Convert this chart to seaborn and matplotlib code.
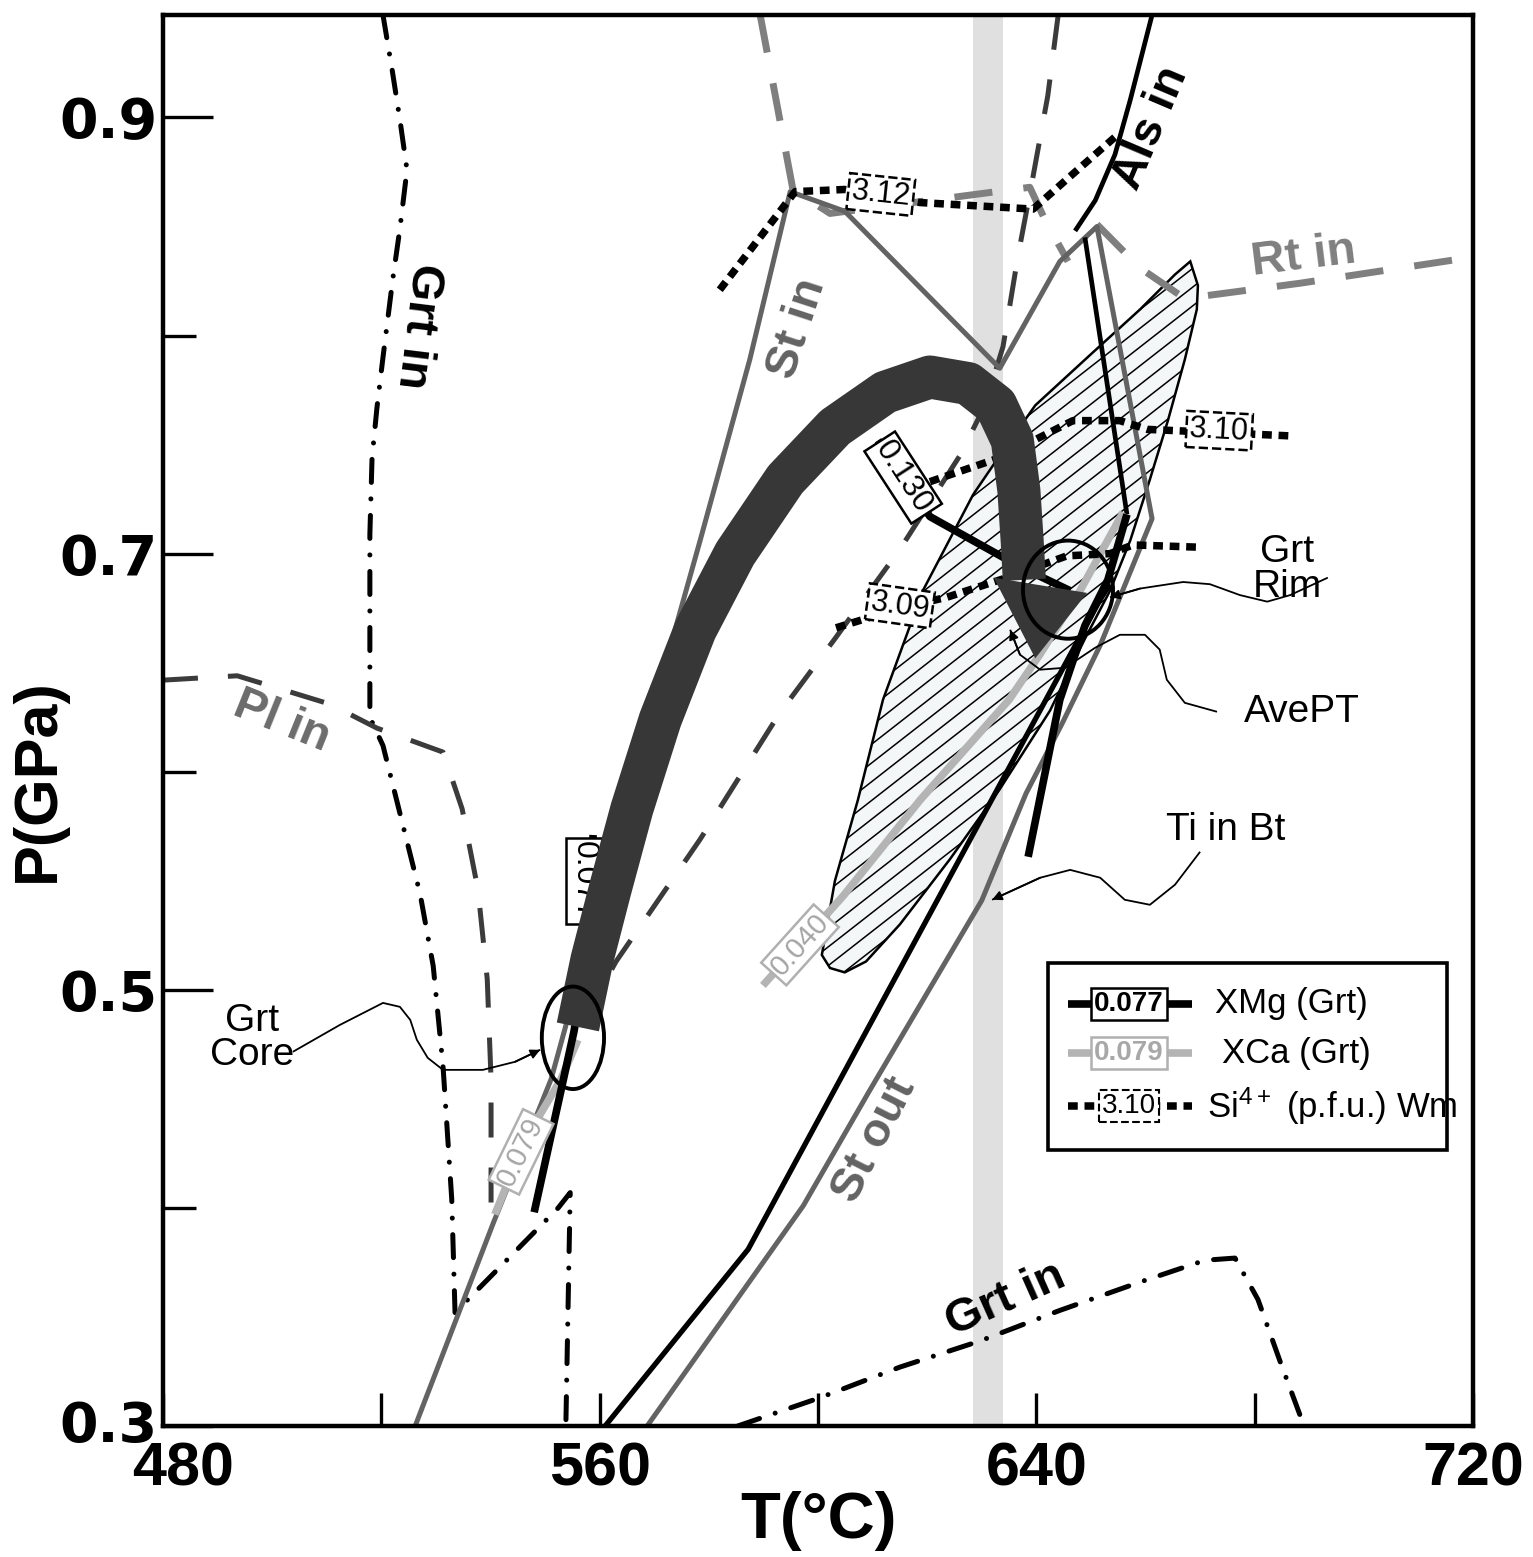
import numpy as np
import matplotlib
matplotlib.use("Agg")
import matplotlib.pyplot as plt
import matplotlib.transforms as mtransforms
import seaborn as sns
from matplotlib.patches import Polygon, Ellipse, Rectangle
from matplotlib.collections import LineCollection

# ---------------- data (T in degC, P in GPa) ----------------
# left "Grt in" boundary (dash-dot)
LGRT_T = [520.3, 522.0, 523.4, 524.7, 523.4, 522.1, 520.3, 519.2, 518.3, 517.9, 517.9, 520.3, 524.0,
          527.1, 529.5, 531.3, 532.9, 533.5, 552.4, 554.6, 553.8]
LGRT_P = [0.947, 0.9215, 0.899, 0.876, 0.849, 0.826, 0.790, 0.767, 0.744, 0.709, 0.625, 0.612, 0.575,
          0.544, 0.511, 0.465, 0.404, 0.352, 0.400, 0.407, 0.300]
# "Pl in" (dark dashed)
PL_T = [480.0, 493.6, 510.6, 519.2, 531.3, 534.8, 537.7, 539.4, 540.1, 540.1]
PL_P = [0.642, 0.644, 0.631, 0.620, 0.609, 0.583, 0.546, 0.505, 0.459, 0.391]
# lower "Grt in" (dash-dot)
LOWGRT_T = [585.3, 600.4, 615.0, 629.7, 644.3, 659.0, 670.9, 676.4, 680.6, 684.6, 688.3]
LOWGRT_P = [0.300, 0.313, 0.327, 0.339, 0.353, 0.366, 0.376, 0.377, 0.358, 0.330, 0.305]
# St in / St out field boundary (grey solid)
ST_T = [526.2, 540.5, 551.1, 560.1, 569.2, 578.4, 587.5, 594.9, 604.9, 633.3, 644.3, 651.1, 661.2,
        651.7, 644.7, 638.1, 630.0, 609.5, 597.3, 568.7]
ST_P = [0.300, 0.393, 0.459, 0.541, 0.624, 0.706, 0.789, 0.866, 0.857, 0.785, 0.834, 0.850, 0.716,
        0.658, 0.622, 0.590, 0.541, 0.454, 0.401, 0.300]
# dark dashed boundary
DK_T = [644.0, 642.1, 639.4, 636.6, 633.9, 630.6, 626.0, 615.0, 603.1, 593.0, 578.4, 563.0, 559.7]
DK_P = [0.947, 0.910, 0.873, 0.836, 0.795, 0.768, 0.745, 0.702, 0.661, 0.627, 0.569, 0.513, 0.498]
# light grey dashed boundary (top)
LG_T = [589.4, 595.4, 602.2, 638.8, 641.6, 645.8]
LG_P = [0.947, 0.867, 0.856, 0.868, 0.853, 0.834]
# "Rt in"
RT_T = [651.1, 659.0, 667.2, 688.3, 720.0]
RT_P = [0.851, 0.831, 0.817, 0.824, 0.836]
# "Als in"
ALS_T = [661.2, 657.2, 654.4, 650.8, 647.1]
ALS_P = [0.947, 0.908, 0.883, 0.862, 0.848]
# black solid lines
BLK2_T = [648.9, 656.6]
BLK2_P = [0.845, 0.718]
BLK_T = [561.0, 587.2, 651.7, 653.5]
BLK_P = [0.300, 0.381, 0.679, 0.686]
# XMg (Grt) isopleths
XMG_R_T = [656.6, 653.1, 648.9, 644.3, 638.5]
XMG_R_P = [0.718, 0.688, 0.667, 0.633, 0.561]
XMG077_T = [548.0, 555.3, 557.5, 558.8]
XMG077_P = [0.398, 0.481, 0.514, 0.571]
XMG130_T = [611.0, 620.5, 637.0, 646.2]
XMG130_P = [0.752, 0.717, 0.694, 0.683]
# XCa (Grt) isopleths
XCA079_T = [540.8, 546.3, 552.9, 556.0]
XCA079_P = [0.397, 0.431, 0.459, 0.477]
XCA040_T = [589.9, 604.6, 618.7, 635.0, 640.7, 648.0, 655.9]
XCA040_P = [0.502, 0.543, 0.587, 0.633, 0.654, 0.683, 0.719]
# Si4+ (p.f.u.) white mica isopleths
SI312_T = [582.0, 595.8, 604.9, 618.7, 639.4, 647.1, 654.4]
SI312_P = [0.821, 0.866, 0.867, 0.861, 0.858, 0.875, 0.891]
SI310_T = [620.5, 633.3, 646.7, 655.3, 660.3, 686.5]
SI310_P = [0.733, 0.744, 0.761, 0.761, 0.757, 0.754]
SI309_T = [603.3, 615.0, 623.6, 634.6, 645.6, 653.5, 657.7, 669.3]
SI309_P = [0.666, 0.675, 0.680, 0.689, 0.699, 0.700, 0.704, 0.703]
# AvePT field outline
AVE_T = [600.7, 603.1, 607.3, 611.9, 619.2, 628.4, 633.3, 639.8, 649.8, 659.0, 665.4, 668.2, 669.6,
         669.4, 667.2, 664.1, 660.8, 657.2, 653.5, 648.9, 642.5, 633.3, 624.2, 615.0, 608.8, 604.9, 602.2]
AVE_P = [0.516, 0.550, 0.587, 0.633, 0.683, 0.727, 0.745, 0.768, 0.791, 0.812, 0.828, 0.834, 0.823,
         0.812, 0.789, 0.761, 0.734, 0.706, 0.683, 0.661, 0.628, 0.592, 0.560, 0.530, 0.513, 0.508, 0.510]
# P-T path (thick arrow)
PATH_T = [556.0, 558.6, 561.9, 565.9, 571.1, 577.5, 584.8, 594.0, 603.1, 612.3, 620.5, 627.5, 632.6,
          635.6, 636.8, 637.4, 637.8]
PATH_P = [0.483, 0.514, 0.546, 0.583, 0.624, 0.665, 0.700, 0.734, 0.758, 0.774, 0.781, 0.778, 0.768,
          0.752, 0.729, 0.706, 0.688]
HEAD_T = [632.2, 649.3, 639.8]
HEAD_P = [0.689, 0.682, 0.652]
# garnet core / rim P-T ellipses (centre T, centre P, width T, height P)
CORE = [555.1, 0.478, 11.4, 0.047]
RIM = [645.8, 0.6835, 16.5, 0.045]
# Ti-in-Bt temperature band
TIBT = [628.4, 633.9]
# leader curves
LD_CORE_T = [503.8, 512.4, 520.3, 523.4, 525.3, 526.5, 528.5, 531.3, 538.6, 544.5, 549.1]
LD_CORE_P = [0.4716, 0.4839, 0.4940, 0.4922, 0.4862, 0.4771, 0.4688, 0.4633, 0.4633, 0.4670, 0.4725]
LD_RIM_T = [693.4, 686.5, 682.3, 677.3, 671.8, 666.9, 659.0, 653.5]
LD_RIM_P = [0.689, 0.681, 0.678, 0.681, 0.686, 0.687, 0.684, 0.680]
LD_AVE_T = [673.1, 667.2, 663.9, 662.6, 659.9, 655.3, 650.8, 645.3, 640.7, 637.0, 635.2]
LD_AVE_P = [0.6275, 0.6316, 0.6422, 0.6560, 0.6628, 0.6628, 0.6569, 0.6477, 0.6468, 0.6537, 0.6651]
LD_TI_T = [670.0, 665.4, 660.8, 656.2, 651.7, 646.2, 640.7, 631.9]
LD_TI_P = [0.5633, 0.5482, 0.5390, 0.5413, 0.5514, 0.5550, 0.5514, 0.5413]

X_MAJOR = [480, 560, 640, 720]
X_MINOR = [520, 600, 680]
Y_MAJOR = [0.3, 0.5, 0.7, 0.9]
Y_MINOR = [0.4, 0.6, 0.8]

# ---------------- style ----------------
sns.set_theme(style="white")
plt.rcParams["font.family"] = ["Liberation Sans", "DejaVu Sans"]
plt.rcParams["mathtext.fontset"] = "custom"
plt.rcParams["mathtext.rm"] = "Liberation Sans"
plt.rcParams["mathtext.default"] = "regular"

DARK = "#3b3b3b"
GRAY = "#636363"
LGRAY = "#7f7f7f"
PALE = "#b4b4b4"
ARROW = "#373738"

DASHDOT = (0, (4.6, 3.3, 0.01, 3.3))
DASHED = (0, (7, 6))
LDASHED = (0, (5.5, 4.5))
DOTTED = (0, (1.3, 0.9))

fig = plt.figure(figsize=(15.33, 15.57), dpi=100)
ax = fig.add_axes([0.10633, 0.08414, 0.85454, 0.90623])


def draw(T, P, color, lw, ls="-", z=2, cap="butt"):
    sns.lineplot(x=T, y=P, ax=ax, color=color, linewidth=lw, linestyle=ls,
                 sort=False, estimator=None, legend=False, zorder=z,
                 dash_capstyle=cap, solid_capstyle=cap)


def boxlabel(T, P, s, rot, tc, ec, ls, fs, weight="normal", z=4):
    ax.text(T, P, s, rotation=rot, rotation_mode="anchor", ha="center", va="center",
            fontsize=fs, color=tc, fontweight=weight, zorder=z,
            bbox=dict(boxstyle="square,pad=0.1", fc="white", ec=ec, lw=1.8, ls=ls))


# Ti in Bt band
ax.axvspan(TIBT[0], TIBT[1], color="#e0e0e0", lw=0, zorder=0.5)

# AvePT hatched field
blob = Polygon(np.column_stack([AVE_T, AVE_P]), closed=True, fc="#f3f7f7", ec="none", zorder=1)
ax.add_patch(blob)
ang = np.deg2rad(38)
segs = []
for c in np.arange(-1100, 1200, 24):
    segs.append([((c - 2500 * np.cos(ang)) / 1310, (-2500 * np.sin(ang)) / 1411),
                 ((c + 2500 * np.cos(ang)) / 1310, (2500 * np.sin(ang)) / 1411)])
lc = LineCollection(segs, colors="black", linewidths=1.1, transform=ax.transAxes, zorder=1.1)
lc.set_clip_path(blob)
ax.add_collection(lc)
ax.add_patch(Polygon(np.column_stack([AVE_T, AVE_P]), closed=True, fill=False, ec="black",
                     lw=1.8, zorder=1.2))

# phase boundaries
draw(LGRT_T, LGRT_P, "black", 3.6, DASHDOT, cap="round")
draw(LOWGRT_T, LOWGRT_P, "black", 3.6, DASHDOT, cap="round")
draw(PL_T, PL_P, DARK, 3.6, DASHED)
draw(DK_T, DK_P, DARK, 3.6, DASHED)
draw(LG_T, LG_P, LGRAY, 5.0, LDASHED)
draw(RT_T, RT_P, LGRAY, 5.0, LDASHED)
draw(ST_T, ST_P, GRAY, 3.6)
draw(ALS_T, ALS_P, "black", 3.4)
draw(BLK2_T, BLK2_P, "black", 3.4)
draw(BLK_T, BLK_P, "black", 3.8)

# isopleths
draw(XCA079_T, XCA079_P, PALE, 5.5, z=3)
draw(XCA040_T, XCA040_P, PALE, 5.5, z=3)
draw(XMG077_T, XMG077_P, "black", 5.5, z=3)
draw(XMG130_T, XMG130_P, "black", 5.5, z=3)
draw(XMG_R_T, XMG_R_P, "black", 5.5, z=3)
draw(SI312_T, SI312_P, "black", 5.4, DOTTED, z=3)
draw(SI310_T, SI310_P, "black", 5.4, DOTTED, z=3)
draw(SI309_T, SI309_P, "black", 5.4, DOTTED, z=3)

boxlabel(611.5, 0.8647, "3.12", -6, "black", "black", "--", 22)
boxlabel(673.5, 0.7564, "3.10", -3, "black", "black", "--", 22)
boxlabel(615.0, 0.6761, "3.09", -8, "black", "black", "--", 22)
boxlabel(615.6, 0.7349, "0.130", -57, "black", "black", "-", 23)
boxlabel(557.1, 0.550, "0.077", -90, "black", "black", "-", 23)
boxlabel(545.6, 0.4257, "0.079", 64, "#a5a5a5", "#b0b0b0", "-", 21)
boxlabel(596.7, 0.5206, "0.040", 48, "#a5a5a5", "#b0b0b0", "-", 21)

# P-T path arrow
draw(PATH_T, PATH_P, ARROW, 31, z=5)
ax.fill(HEAD_T, HEAD_P, color=ARROW, lw=0, zorder=5)

# ellipses
ax.add_patch(Ellipse((CORE[0], CORE[1]), CORE[2], CORE[3], fill=False, ec="black", lw=2.8, zorder=6))
ax.add_patch(Ellipse((RIM[0], RIM[1]), RIM[2], RIM[3], fill=False, ec="black", lw=2.8, zorder=6))

# leader lines
for lt, lp in [(LD_CORE_T, LD_CORE_P), (LD_RIM_T, LD_RIM_P), (LD_AVE_T, LD_AVE_P), (LD_TI_T, LD_TI_P)]:
    draw(lt, lp, "black", 1.3, z=7)
    ax.annotate("", xy=(lt[-1], lp[-1]), xytext=(lt[-2], lp[-2]),
                arrowprops=dict(arrowstyle="-|>", color="black", lw=1.3, mutation_scale=14,
                                shrinkA=0, shrinkB=0), zorder=7)

# field labels
BOLD = dict(fontweight="bold", fontsize=34, ha="center", va="center", rotation_mode="anchor", zorder=7)
ax.text(526.8, 0.8046, "Grt in", rotation=-97, color="black", **BOLD)
ax.text(501.8, 0.623, "Pl in", rotation=-22, color="#6c6c6c", **BOLD)
ax.text(596.2, 0.803, "St in", rotation=72, color=GRAY, **BOLD)
ax.text(661.0, 0.895, "Als in", rotation=67, color="black", **BOLD)
ax.text(688.9, 0.836, "Rt in", rotation=7, color=LGRAY, **BOLD)
ax.text(610.4, 0.431, "St out", rotation=63, color=GRAY, **BOLD)
ax.text(634.3, 0.358, "Grt in", rotation=24, color="black", **BOLD)

NORM = dict(fontsize=28, ha="center", va="center", color="black", linespacing=0.95, zorder=7)
ax.text(685.9, 0.6927, "Grt\nRim", **NORM)
ax.text(688.7, 0.6275, "AvePT", **NORM)
ax.text(674.6, 0.5734, "Ti in Bt", **NORM)
ax.text(496.3, 0.478, "Grt\nCore", **NORM)

# legend (drawn in axes coordinates)
L = dict(transform=ax.transAxes, zorder=9)
ax.add_patch(Rectangle((0.6756, 0.1956), 0.3046, 0.1325, fc="white", ec="black", lw=2.6, **L))
rows = [0.2991, 0.2643, 0.2268]
ax.plot([0.6908, 0.7855], [rows[0]] * 2, color="black", lw=5.5, solid_capstyle="butt", **L)
ax.plot([0.6908, 0.7855], [rows[1]] * 2, color=PALE, lw=5.5, solid_capstyle="butt", **L)
ax.plot([0.6908, 0.7855], [rows[2]] * 2, color="black", lw=5.4, linestyle=DOTTED, **L)
lb = dict(ha="center", va="center", fontsize=20, transform=ax.transAxes, zorder=10)
ax.text(0.7374, rows[0], "0.077", fontweight="bold", color="black",
        bbox=dict(boxstyle="square,pad=0.1", fc="white", ec="black", lw=1.8), **lb)
ax.text(0.7374, rows[1], "0.079", fontweight="bold", color="#a8a8a8",
        bbox=dict(boxstyle="square,pad=0.1", fc="white", ec="#b0b0b0", lw=1.8), **lb)
ax.text(0.7374, rows[2], "3.10", color="black",
        bbox=dict(boxstyle="square,pad=0.1", fc="white", ec="black", lw=1.5, ls="--"), **lb)
lt_ = dict(ha="left", va="center", fontsize=25, color="black", transform=ax.transAxes, zorder=10)
ax.text(0.8031, rows[0], "XMg (Grt)", **lt_)
ax.text(0.8084, rows[1], "XCa (Grt)", **lt_)
ax.text(0.7969, rows[2], "Si$^{4+}$ (p.f.u.) Wm", **lt_)

# axes, ticks, labels
ax.set_xlim(480, 720)
ax.set_ylim(0.3, 0.947)
ax.set_xticks(X_MAJOR)
ax.set_xticks(X_MINOR, minor=True)
ax.set_yticks(Y_MAJOR)
ax.set_yticks(Y_MINOR, minor=True)
ax.set_xticklabels([str(v) for v in X_MAJOR])
ax.set_yticklabels([f"{v:.1f}" for v in Y_MAJOR])
ax.tick_params(axis="x", which="both", direction="in", length=24, width=2.4, color="black",
               bottom=True, top=False, pad=11, labelcolor="black")
ax.tick_params(axis="y", which="major", direction="in", length=36, width=2.4, color="black",
               left=True, right=False, pad=4, labelcolor="black")
ax.tick_params(axis="y", which="minor", direction="in", length=24, width=2.4, color="black", left=True)
for lab in ax.get_xticklabels():
    lab.set_fontweight("bold")
    lab.set_fontsize(44)
for lab in ax.get_yticklabels():
    lab.set_fontfamily(["DejaVu Sans"])
    lab.set_fontweight("bold")
    lab.set_fontsize(40)
# corner labels nudged apart a little, as in the reference
first = ax.get_xticklabels()[0]
first.set_transform(first.get_transform() + mtransforms.ScaledTranslation(0.2, 0, fig.dpi_scale_trans))
low = ax.get_yticklabels()[0]
low.set_transform(low.get_transform() + mtransforms.ScaledTranslation(0, 0.05, fig.dpi_scale_trans))
for s in ax.spines.values():
    s.set_linewidth(3.2)
    s.set_color("black")
ax.set_xlabel("T(°C)", fontsize=47, fontweight="bold", color="black")
ax.set_ylabel("P(GPa)", fontsize=44, fontweight="bold", color="black")
ax.xaxis.set_label_coords(0.5, -0.046)
ax.yaxis.set_label_coords(-0.073, 0.458)
ax.grid(False)

fig.savefig("out.png", dpi=100)
